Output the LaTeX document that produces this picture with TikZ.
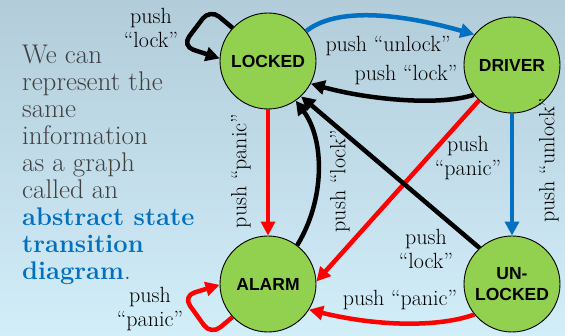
\documentclass[tikz,border=0pt]{standalone}
\usepackage{fontspec}
\newfontfamily\nodefont{Liberation Sans}
\usetikzlibrary{arrows.meta}
\definecolor{stgreen}{HTML}{92D050}
\definecolor{stblue}{HTML}{0070C0}
\definecolor{stred}{HTML}{FF0000}
\definecolor{bgtop}{HTML}{B2CCDA}
\definecolor{bgbot}{HTML}{D2EEF9}
\definecolor{txtgrey}{HTML}{404040}
\begin{document}
\begin{tikzpicture}[x=1pt,y=-1pt,
  state/.style={circle,draw=black,line width=0.9pt,fill=stgreen,minimum size=96pt,inner sep=0pt,align=center,font=\nodefont\bfseries\fontsize{17.5}{21}\selectfont},
  edge/.style={line width=4.5pt,-{Triangle[length=14pt,width=14pt]}},
  lbl/.style={font=\fontsize{22}{24}\selectfont,inner sep=0pt,align=center},
  loopedge/.style={edge,rounded corners=12pt},
]
\fill[top color=bgtop,bottom color=bgbot] (0,0) rectangle (565,336);
\useasboundingbox (0,0) rectangle (565,336);

\node[anchor=north west,inner sep=0pt,align=left,text=txtgrey,font=\fontsize{27}{27}\selectfont] (txt) at (22,44.5)
 {We can\\represent the\\same\\information\\as a graph\\called an\\\textcolor{stblue}{\fontsize{25.5}{27}\selectfont\textbf{abstract state}}\\\textcolor{stblue}{\fontsize{25.5}{27}\selectfont\textbf{transition}}\\\textcolor{stblue}{\fontsize{25.5}{27}\selectfont\textbf{diagram}}.};

\node[state] (L) at (268,61) {LOCKED};
\node[state] (D) at (512,65) {DRIVER};
\node[state] (A) at (268,284) {ALARM};
\node[state] (U) at (512,284) {UN-\\LOCKED};

% self loops
\draw[loopedge] (L.137) -- (210,9) -- (182,46) -- (L.177);
\draw[loopedge,stred] (A.223) -- (211,335) -- (183,296) -- (A.181);

% transitions
\draw[edge,stblue] (L.38) .. controls (335,8) and (395,12) .. (D.141);
\draw[edge] (D.218) .. controls (440,106) and (370,100) .. (L.-28);
\draw[edge,stred] (D.227) -- (A.3);
\draw[edge,stblue] (D.south) -- (U.north);
\draw[edge,stred] (L.south) -- (A.north);
\draw[edge] (A.53) .. controls (325,200) and (325,140) .. (L.-55);
\draw[edge] (U.132) -- (L.-47);
\draw[edge,stred] (U.219) .. controls (440,327) and (380,327) .. (A.-32);

% labels
\node[lbl] (l1) at (151,28) {push\\“lock”};
\node[lbl] (l2) at (388,46) {push “unlock”};
\node[lbl] (l3) at (406,75) {push “lock”};
\node[lbl] (l4) at (468,158) {push\\“panic”};
\node[lbl,rotate=90] (l5) at (549,160) {push “unlock”};
\node[lbl,rotate=90] (l6) at (241,171) {push “panic”};
\node[lbl,rotate=90] (l7) at (340,181) {push “lock”};
\node[lbl] (l8) at (426,249) {push\\“lock”};
\node[lbl] (l9) at (400,300) {push “panic”};
\node[lbl] (l10) at (150,309) {push\\“panic”};
\end{tikzpicture}
\end{document}
